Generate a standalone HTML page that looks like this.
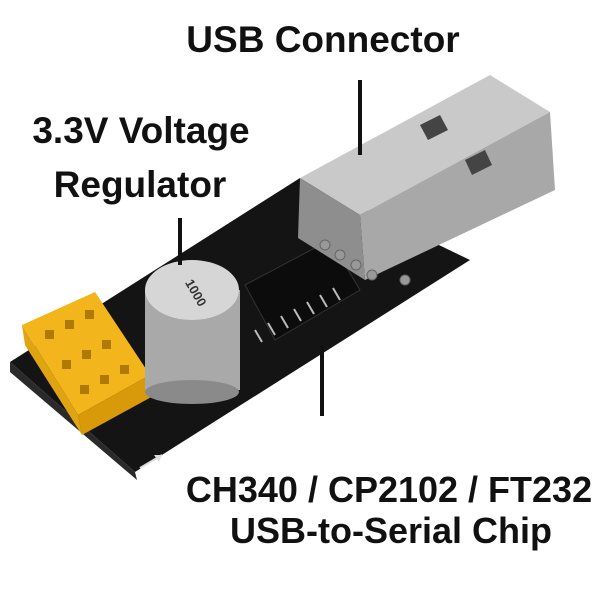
<!DOCTYPE html>
<html><head><meta charset="utf-8"><style>
body{margin:0;background:#fff;width:600px;height:600px;overflow:hidden}
svg{display:block}
text{font-family:"Liberation Sans",sans-serif;font-weight:bold;fill:#111}
</style></head><body>
<svg width="600" height="600" viewBox="0 0 600 600">
<!-- PCB board -->
<polygon points="10,362 300,178 470,260 135,472" fill="#141414"/>
<polygon points="10,362 135,472 137,480 10,372" fill="#2a2a2a"/>
<line x1="140" y1="468" x2="162" y2="455" stroke="#ddd" stroke-width="2"/>
<polygon points="162,455 154,455 159,462" fill="#ddd"/>
<!-- chip -->
<polygon points="245,285 330,240 360,290 275,340" fill="#0c0c0c" stroke="#333"/>
<g stroke="#bbb" stroke-width="2">
<line x1="255" y1="330" x2="262" y2="342"/><line x1="268" y1="323" x2="275" y2="335"/>
<line x1="281" y1="316" x2="288" y2="328"/><line x1="294" y1="309" x2="301" y2="321"/>
<line x1="307" y1="302" x2="314" y2="314"/><line x1="320" y1="295" x2="327" y2="307"/>
<line x1="333" y1="288" x2="340" y2="300"/>
</g>
<!-- USB connector -->
<polygon points="300,178 490,75 550,112 360,215" fill="#c9c9c9"/>
<polygon points="360,215 550,112 555,190 365,280" fill="#a8a8a8"/>
<polygon points="300,178 360,215 365,280 298,238" fill="#8e8e8e"/>
<polygon points="420,125 440,115 448,130 428,140" fill="#444"/>
<polygon points="465,160 485,150 492,165 472,175" fill="#444"/>
<g fill="#999" stroke="#666"><circle cx="325" cy="245" r="5"/><circle cx="340" cy="255" r="5"/><circle cx="356" cy="265" r="5"/><circle cx="372" cy="275" r="5"/><circle cx="405" cy="280" r="5"/></g>
<!-- yellow header -->
<polygon points="22,325 95,292 150,375 78,415" fill="#f2b51c"/>
<polygon points="78,415 150,375 155,395 82,435" fill="#d99a0a"/>
<polygon points="22,325 78,415 82,435 25,345" fill="#e0a412"/>
<g fill="#b07a00"><rect x="45" y="330" width="9" height="9"/><rect x="65" y="320" width="9" height="9"/><rect x="85" y="310" width="9" height="9"/>
<rect x="62" y="360" width="9" height="9"/><rect x="82" y="350" width="9" height="9"/><rect x="102" y="340" width="9" height="9"/>
<rect x="80" y="385" width="9" height="9"/><rect x="100" y="375" width="9" height="9"/><rect x="120" y="365" width="9" height="9"/></g>
<!-- capacitor -->
<rect x="145" y="290" width="95" height="100" fill="#a9a9a9"/>
<ellipse cx="192" cy="392" rx="47" ry="12" fill="#8a8a8a"/>
<ellipse cx="192" cy="290" rx="47" ry="30" fill="#d6d6d6"/>
<text x="192" y="295" font-size="13" text-anchor="middle" transform="rotate(60 192 295)" style="fill:#333">1000</text>
<!-- labels -->
<text x="323" y="52" font-size="37" text-anchor="middle">USB Connector</text>
<text x="141" y="143" font-size="37" text-anchor="middle">3.3V Voltage</text>
<text x="140" y="197" font-size="37" text-anchor="middle">Regulator</text>
<text x="389" y="502" font-size="36" text-anchor="middle">CH340 / CP2102 / FT232</text>
<text x="391" y="543" font-size="36" text-anchor="middle">USB-to-Serial Chip</text>
<g stroke="#111" stroke-width="4">
<line x1="360" y1="80" x2="360" y2="155"/>
<line x1="180" y1="218" x2="180" y2="265"/>
<line x1="322" y1="345" x2="322" y2="416"/>
</g>
</svg>
</body></html>
